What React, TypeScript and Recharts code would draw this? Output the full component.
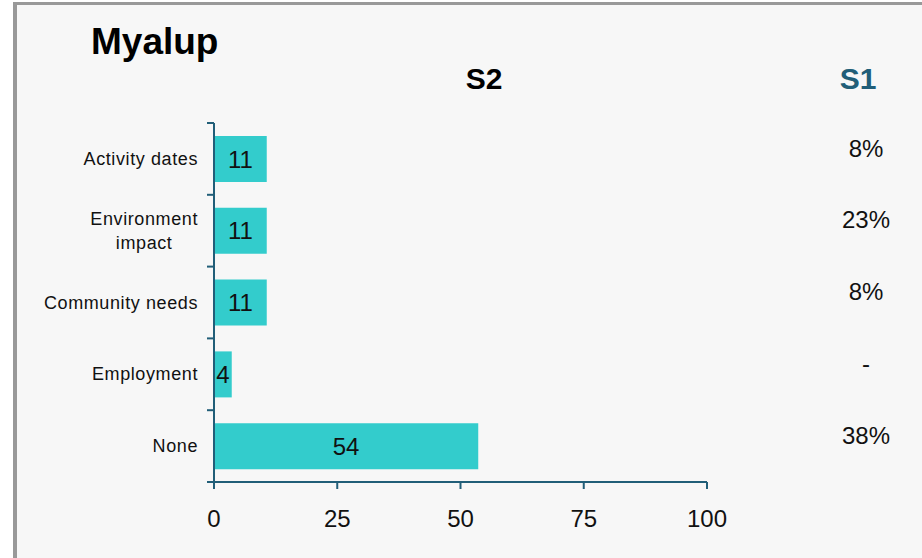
import React from 'react';
import { BarChart, Bar, XAxis, YAxis, LabelList } from 'recharts';

const categories = ['Activity dates', 'Environment\nimpact', 'Community needs', 'Employment', 'None'];
const s2Values = [10.7, 10.7, 10.7, 3.6, 53.6];
const s1Labels = ['8%', '23%', '8%', '-', '38%'];
const xTicks = [0, 25, 50, 75, 100];

const data = categories.map((name, i) => ({ name, s2: s2Values[i], s1: s1Labels[i] }));

const AXIS = '#215e78';
const BAR = '#33cccc';
const FONT = 'Arial, "Liberation Sans", sans-serif';

const CategoryTick = (props: any) => {
  const { x, y, payload, index, visibleTicksCount } = props;
  const half = payload.offset ?? 0;
  const lines = String(payload.value).split('\n');
  return (
    <g>
      <line x1={x - 7} x2={x} y1={y - half} y2={y - half} stroke={AXIS} strokeWidth={2} />
      {index === visibleTicksCount - 1 && (
        <line x1={x - 7} x2={x} y1={y + half} y2={y + half} stroke={AXIS} strokeWidth={2} />
      )}
      <foreignObject x={x - 216} y={y - 40} width={200} height={80}>
        <div
          style={{
            height: '100%',
            display: 'flex',
            justifyContent: 'flex-end',
            alignItems: 'center',
          }}
        >
          <div
            style={{
              textAlign: 'center',
              fontFamily: FONT,
              fontSize: 18,
              letterSpacing: 0.6,
              lineHeight: '24px',
              color: '#111',
              whiteSpace: 'nowrap',
            }}
          >
            {lines.map((l, i) => (
              <div key={i}>{l}</div>
            ))}
          </div>
        </div>
      </foreignObject>
    </g>
  );
};

const S1Tick = (props: any) => {
  const { x, y, index } = props;
  return (
    <text
      x={x + 159}
      y={y - 11}
      dy="0.36em"
      textAnchor="middle"
      fontFamily={FONT}
      fontSize={24}
      fill="#111"
    >
      {s1Labels[index]}
    </text>
  );
};

const App = () => {
  return (
    <div style={{ position: 'absolute', left: 0, top: 0, width: 922, height: 558, background: '#fff' }}>
      <div
        style={{
          position: 'absolute',
          left: 13,
          top: 2,
          width: 909,
          height: 555,
          borderLeft: '4px solid #999',
          borderTop: '3px solid #999',
          borderBottom: '1px solid #e2e2e2',
          background: '#f7f7f7',
        }}
      />
      <div style={{ position: 'absolute', left: 91, top: 21, fontFamily: FONT, fontWeight: 'bold', fontSize: 37, color: '#000' }}>
        Myalup
      </div>
      <div style={{ position: 'absolute', left: 434, width: 100, textAlign: 'center', top: 62, fontFamily: FONT, fontWeight: 'bold', fontSize: 30, color: '#000' }}>
        S2
      </div>
      <div style={{ position: 'absolute', left: 808, width: 100, textAlign: 'center', top: 62, fontFamily: FONT, fontWeight: 'bold', fontSize: 30, color: AXIS }}>
        S1
      </div>
      <div style={{ position: 'absolute', left: 0, top: 0 }}>
        <BarChart
          width={922}
          height={558}
          data={data}
          layout="vertical"
          margin={{ top: 123, right: 0, bottom: 0, left: 0 }}
        >
          <XAxis
            type="number"
            domain={[0, 100]}
            ticks={xTicks}
            interval={0}
            height={76}
            stroke={AXIS}
            strokeWidth={2}
            tickSize={7}
            tickMargin={21}
            tick={{ fill: '#111', fontSize: 24, fontFamily: FONT }}
          />
          <YAxis
            yAxisId="cat"
            type="category"
            dataKey="name"
            width={214}
            stroke={AXIS}
            strokeWidth={2}
            tickLine={false}
            tickSize={0}
            tickMargin={0}
            interval={0}
            tick={<CategoryTick />}
          />
          <YAxis
            yAxisId="s1"
            orientation="right"
            type="category"
            dataKey="name"
            width={215}
            axisLine={false}
            tickLine={false}
            tickSize={0}
            tickMargin={0}
            interval={0}
            tick={<S1Tick />}
          />
          <Bar yAxisId="cat" dataKey="s2" fill={BAR} barSize={46} isAnimationActive={false}>
            <LabelList
              dataKey="s2"
              position="center"
              formatter={(v: any) => Math.round(Number(v))}
              fill="#111"
              fontSize={24}
              fontFamily={FONT}
            />
          </Bar>
        </BarChart>
      </div>
    </div>
  );
};

export default App;
